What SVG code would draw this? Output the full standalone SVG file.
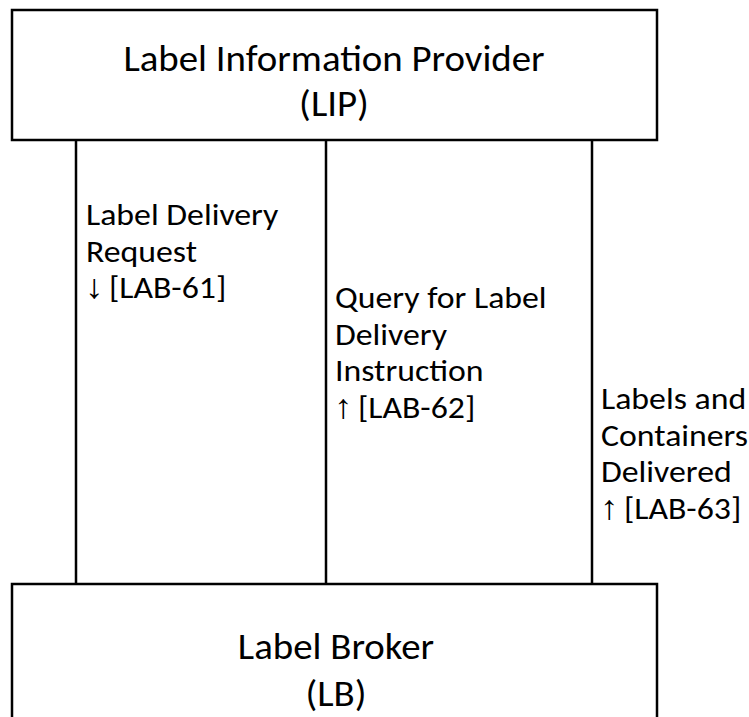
<svg xmlns="http://www.w3.org/2000/svg" width="749" height="717" viewBox="0 0 749 717">
<style>
.box{fill:#fff;stroke:#000;stroke-width:2.5}
.ln{stroke:#000;stroke-width:2.5;fill:none}
.t{font-family:Carlito,"Liberation Sans",Arial,sans-serif;fill:#000}
.title{font-size:36px;text-anchor:middle}
.lab{font-size:31px}
.arr{font-family:"Liberation Sans",Arial,sans-serif;font-weight:bold;font-size:34px}
</style>
<rect width="749" height="717" fill="#fff"/>
<g id="connectors">
<line class="ln" x1="76" y1="140" x2="76" y2="584"/>
<line class="ln" x1="326" y1="140" x2="326" y2="584"/>
<line class="ln" x1="592" y1="140" x2="592" y2="584"/>
</g>
<g id="lip">
<rect class="box" x="12" y="10" width="645" height="130"/>
<g transform="translate(334,0) scale(1.08,1)">
<text class="t title" x="0" y="71">Label Information Provider</text>
<text class="t title" x="0" y="116">(LIP)</text>
</g>
</g>
<g id="lb">
<rect class="box" x="12" y="584" width="645" height="140"/>
<g transform="translate(336,0) scale(1.08,1)">
<text class="t title" x="0" y="659">Label Broker</text>
<text class="t title" x="0" y="706">(LB)</text>
</g>
</g>
<g id="label-61" transform="translate(86,0) scale(1.09,1)">
<text class="t lab" x="0" y="225">Label Delivery</text>
<text class="t lab" x="0" y="262">Request</text>
<text class="t lab" x="0" y="298"><tspan class="arr" x="-1">↓</tspan><tspan x="21">[LAB-61]</tspan></text>
</g>
<g id="label-62" transform="translate(335,0) scale(1.09,1)">
<text class="t lab" x="0" y="308">Query for Label</text>
<text class="t lab" x="0" y="345">Delivery</text>
<text class="t lab" x="0" y="381">Instruction</text>
<text class="t lab" x="0" y="418"><tspan class="arr" x="-1">↑</tspan><tspan x="21">[LAB-62]</tspan></text>
</g>
<g id="label-63" transform="translate(601,0) scale(1.09,1)">
<text class="t lab" x="0" y="409">Labels and</text>
<text class="t lab" x="0" y="446">Containers</text>
<text class="t lab" x="0" y="482">Delivered</text>
<text class="t lab" x="0" y="519"><tspan class="arr" x="-1">↑</tspan><tspan x="21">[LAB-63]</tspan></text>
</g>
</svg>
